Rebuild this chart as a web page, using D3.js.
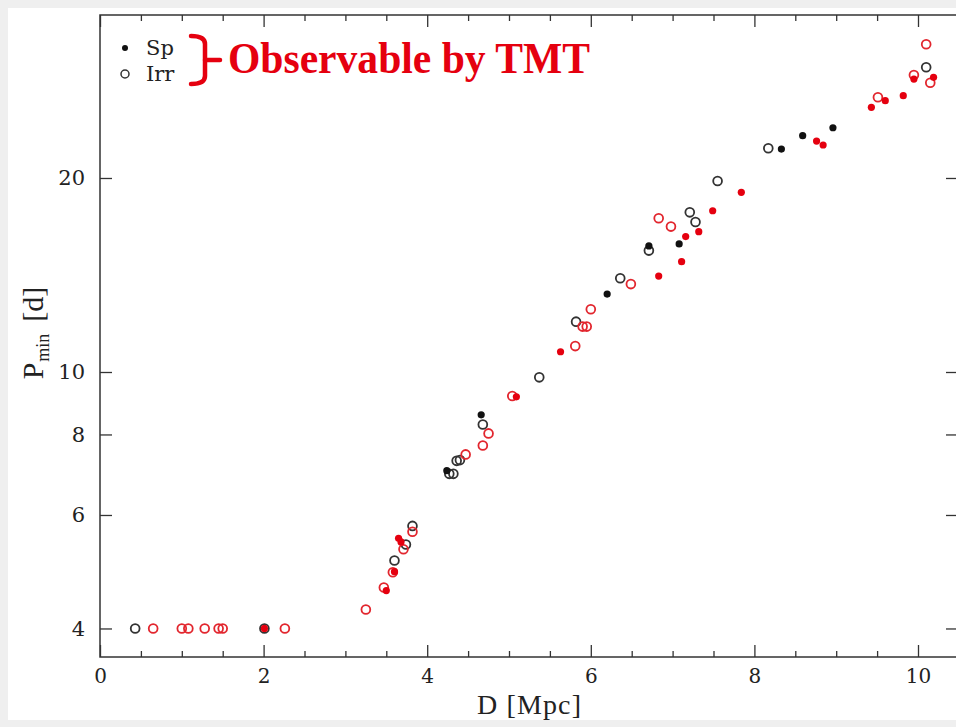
<!DOCTYPE html>
<html>
<head>
<meta charset="utf-8">
<script src="https://cdn.jsdelivr.net/npm/d3@7/dist/d3.min.js"></script>
<style>
  html, body { margin: 0; padding: 0; background: #efefef; }
  svg { display: block; }
</style>
</head>
<body>
<svg id="chart" width="956" height="727"></svg>
<script>
// Minimum period P_min [d] against distance D [Mpc]
// Spirals (Sp, filled) and irregulars (Irr, open); red ones are observable by TMT.
const spBlackD = [4.66, 4.24, 6.20, 6.71, 7.08, 8.33, 8.59, 8.96];
const spBlackP = [8.58, 7.03, 13.21, 15.69, 15.80, 22.18, 23.26, 23.93];

const irrBlackD = [0.43, 2.01, 4.68, 4.40, 4.36, 4.27, 4.32, 3.82, 3.74, 3.60, 5.37, 5.82, 6.36, 6.71, 7.21, 7.28, 7.55, 8.17, 10.10];
const irrBlackP = [4.00, 4.00, 8.29, 7.30, 7.28, 6.95, 6.95, 5.77, 5.40, 5.10, 9.81, 11.97, 13.98, 15.43, 17.69, 17.09, 19.79, 22.24, 29.70];

const spRedD = [2.01, 3.50, 3.65, 3.68, 3.60, 5.09, 5.63, 6.83, 7.11, 7.16, 7.32, 7.49, 7.84, 8.76, 8.84, 9.43, 9.60, 9.82, 9.95, 10.19];
const spRedP = [4.00, 4.58, 5.52, 5.45, 4.90, 9.15, 10.75, 14.09, 14.83, 16.22, 16.51, 17.79, 19.00, 22.82, 22.50, 25.74, 26.36, 26.84, 28.48, 28.66];

const irrRedD = [0.65, 1.00, 1.08, 1.28, 1.45, 1.50, 2.26, 3.25, 3.47, 3.82, 3.71, 3.58, 4.75, 4.68, 4.47, 5.04, 5.81, 5.90, 5.95, 6.00, 6.49, 6.83, 6.98, 9.51, 9.95, 10.10, 10.15];
const irrRedP = [4.00, 4.00, 4.00, 4.00, 4.00, 4.00, 4.00, 4.28, 4.63, 5.65, 5.31, 4.89, 8.03, 7.69, 7.45, 9.18, 10.97, 11.76, 11.76, 12.51, 13.69, 17.32, 16.81, 26.69, 28.89, 32.25, 28.11];

const xMajorTicks = [0, 2, 4, 6, 8, 10];
const xMinorTicks = d3.range(0.5, 10.5, 0.5).filter(v => Math.abs(v % 2) > 1e-9);
const yTicks = [4, 6, 8, 10, 20];

const legendLabels = ["Sp", "Irr"];
const noteText = "Observable by TMT";
const xTitle = "D [Mpc]";

const RED = "#e5000f";
const RED_OPEN = "#e2262e";
const BLACK = "#111";
const GREY_OPEN = "#333";

const svg = d3.select("#chart");

// white panel
svg.append("rect").attr("x", 8).attr("y", 8).attr("width", 960).attr("height", 712).attr("fill", "#fff");

const pLeft = 100, pRight = 958, pTop = 15, pBottom = 657;

const x = d3.scaleLinear().domain([0, (pRight - pLeft) / 81.8]).range([pLeft, pRight]);
// 644.5 px per decade, P=10 at y=372
const y = d3.scaleLog()
  .domain([Math.pow(10, 1 - (pBottom - 372) / 644.5), Math.pow(10, 1 + (372 - pTop) / 644.5)])
  .range([pBottom, pTop]);

const tickFont = "'DejaVu Serif', serif";

function styleAxis(g) {
  g.select(".domain").remove();
  g.selectAll(".tick line").attr("stroke", "#333").attr("stroke-width", 1.3);
  g.selectAll(".tick text").attr("fill", "#222").style("font-family", tickFont).style("font-size", "20px");
}

// bottom axis
svg.append("g").attr("transform", `translate(0,${pBottom})`)
  .call(d3.axisBottom(x).tickValues(xMajorTicks).tickSize(-12).tickSizeOuter(0).tickPadding(12).tickFormat(d3.format("d")))
  .call(styleAxis);
svg.append("g").attr("transform", `translate(0,${pBottom})`)
  .call(d3.axisBottom(x).tickValues(xMinorTicks).tickSize(-6).tickSizeOuter(0).tickFormat(""))
  .call(styleAxis);
// top axis
svg.append("g").attr("transform", `translate(0,${pTop})`)
  .call(d3.axisTop(x).tickValues(xMajorTicks).tickSize(-12).tickSizeOuter(0).tickFormat(""))
  .call(styleAxis);
svg.append("g").attr("transform", `translate(0,${pTop})`)
  .call(d3.axisTop(x).tickValues(xMinorTicks).tickSize(-6).tickSizeOuter(0).tickFormat(""))
  .call(styleAxis);
// left axis
svg.append("g").attr("transform", `translate(${pLeft},0)`)
  .call(d3.axisLeft(y).tickValues(yTicks).tickSize(-12).tickSizeOuter(0).tickPadding(15).tickFormat(d3.format("d")))
  .call(styleAxis)
  .selectAll(".tick text").style("font-size", "21px");
// right axis
svg.append("g").attr("transform", `translate(${pRight},0)`)
  .call(d3.axisRight(y).tickValues(yTicks).tickSize(-12).tickSizeOuter(0).tickFormat(""))
  .call(styleAxis);

// frame
svg.append("rect")
  .attr("x", pLeft).attr("y", pTop).attr("width", pRight - pLeft).attr("height", pBottom - pTop)
  .attr("fill", "none").attr("stroke", "#333").attr("stroke-width", 1.5);

// axis titles
svg.append("text")
  .attr("x", (pLeft + pRight) / 2).attr("y", 714)
  .attr("text-anchor", "middle")
  .style("font-family", "'Liberation Serif', serif").style("font-size", "28px")
  .attr("textLength", 104).attr("lengthAdjust", "spacing")
  .attr("fill", "#222")
  .text(xTitle);

const yt = svg.append("text")
  .attr("transform", "translate(43,333) rotate(-90)")
  .attr("text-anchor", "middle")
  .style("font-family", "'Liberation Serif', serif").style("font-size", "30px")
  .attr("fill", "#222");
yt.append("tspan").text("P");
yt.append("tspan").attr("dy", 6).attr("dx", 1).style("font-size", "18px").text("min");
yt.append("tspan").attr("dy", -6).attr("dx", 12).text("[d]");

// points
const plot = svg.append("g");
function drawFilled(ds, ps, color) {
  plot.append("g").selectAll("circle").data(d3.zip(ds, ps)).join("circle")
    .attr("cx", d => x(d[0])).attr("cy", d => y(d[1])).attr("r", 3.6)
    .attr("fill", color);
}
function drawOpen(ds, ps, color) {
  plot.append("g").selectAll("circle").data(d3.zip(ds, ps)).join("circle")
    .attr("cx", d => x(d[0])).attr("cy", d => y(d[1])).attr("r", 4.4)
    .attr("fill", "none").attr("stroke", color).attr("stroke-width", 1.8);
}
drawOpen(irrBlackD, irrBlackP, GREY_OPEN);
drawFilled(spBlackD, spBlackP, BLACK);
drawOpen(irrRedD, irrRedP, RED_OPEN);
drawFilled(spRedD, spRedP, RED);

// legend
const legend = svg.append("g");
legend.append("circle").attr("cx", 125).attr("cy", 48).attr("r", 3).attr("fill", BLACK);
legend.append("circle").attr("cx", 125).attr("cy", 74).attr("r", 4).attr("fill", "none").attr("stroke", GREY_OPEN).attr("stroke-width", 1.5);
legend.selectAll("text.lab").data(legendLabels).join("text")
  .attr("class", "lab")
  .attr("x", 146).attr("y", (d, i) => 55 + i * 26)
  .style("font-family", "'DejaVu Serif', serif").style("font-size", "21px")
  .attr("fill", "#222")
  .text(d => d);

// brace and note
legend.append("path")
  .attr("d", "M191,36 Q205,36 205,44 L205,76 Q205,84 191,84")
  .attr("fill", "none").attr("stroke", RED).attr("stroke-width", 4.5).attr("stroke-linecap", "round");
legend.append("path")
  .attr("d", "M205,60 L220,60")
  .attr("fill", "none").attr("stroke", RED).attr("stroke-width", 4.5).attr("stroke-linecap", "round");
legend.append("text")
  .attr("x", 228).attr("y", 73)
  .style("font-family", "'Liberation Serif', serif").style("font-size", "44px").style("font-weight", "bold")
  .attr("textLength", 362).attr("lengthAdjust", "spacingAndGlyphs")
  .attr("fill", RED)
  .text(noteText);
</script>
</body>
</html>
